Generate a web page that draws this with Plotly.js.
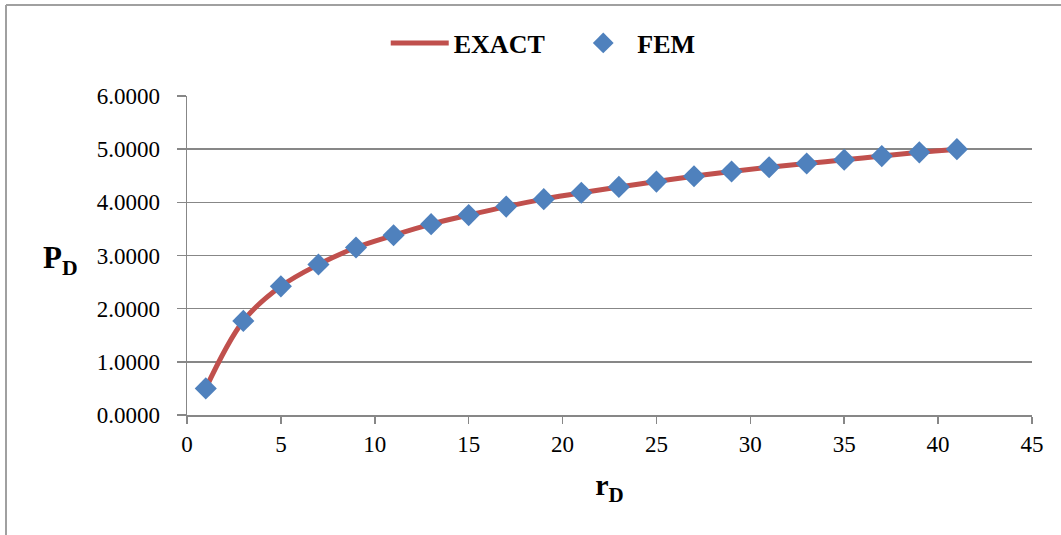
<!DOCTYPE html>
<html>
<head>
<meta charset="utf-8">
<script src="https://cdn.plot.ly/plotly-3.0.1.min.js"></script>
<style>
html,body{margin:0;padding:0;background:#fff;}
#chart{width:1061px;height:535px;}
</style>
</head>
<body>
<div id="chart"></div>
<script>
// Data
const rD = [1, 3, 5, 7, 9, 11, 13, 15, 17, 19, 21, 23, 25, 27, 29, 31, 33, 35, 37, 39, 41];
const exactPD = [0.50, 1.77, 2.42, 2.83, 3.15, 3.38, 3.59, 3.76, 3.92, 4.06, 4.18, 4.29, 4.39, 4.49, 4.58, 4.66, 4.73, 4.80, 4.87, 4.94, 5.00];
const femPD = [0.50, 1.77, 2.42, 2.83, 3.15, 3.38, 3.59, 3.76, 3.92, 4.06, 4.18, 4.29, 4.39, 4.49, 4.58, 4.66, 4.73, 4.80, 4.87, 4.94, 5.00];
const yTickVals = [0, 1, 2, 3, 4, 5, 6];
const yTickText = ["0.0000", "1.0000", "2.0000", "3.0000", "4.0000", "5.0000", "6.0000"];
const xTickVals = [0, 5, 10, 15, 20, 25, 30, 35, 40, 45];

const FONT = "'Liberation Serif', 'Times New Roman', serif";
const GRID = "#878787";

const traces = [
  {
    x: rD, y: exactPD, name: "EXACT\u00a0\u00a0\u00a0", type: "scatter", mode: "lines",
    line: {color: "#C0504D", width: 5, shape: "spline", smoothing: 1}
  },
  {
    x: rD, y: femPD, name: "FEM", type: "scatter", mode: "markers",
    marker: {symbol: "diamond", size: 17, color: "#4F81BD"}
  }
];

const layout = {
  width: 1061, height: 535,
  margin: {l: 187, r: 29, t: 96, b: 120, autoexpand: false},
  paper_bgcolor: "#fff", plot_bgcolor: "#fff",
  font: {family: FONT, size: 23, color: "#000"},
  showlegend: true,
  legend: {
    orientation: "h", xref: "container", yref: "container",
    x: 0.512, xanchor: "center", y: 1 - 43 / 535, yanchor: "middle",
    bgcolor: "rgba(0,0,0,0)",
    font: {family: FONT, size: 26, color: "#000", weight: "bold"},
    itemwidth: 58
  },
  xaxis: {
    range: [0, 45], tickvals: xTickVals, ticktext: xTickVals.map(String),
    showgrid: false, zeroline: false,
    showline: true, linecolor: GRID, linewidth: 1.5,
    ticks: "outside", ticklen: 7, tickcolor: GRID, tickwidth: 1.5,
    ticklabelstandoff: 1,
    tickfont: {family: FONT, size: 23, color: "#000"},
    title: {text: "<b>r<sub>D</sub></b>", font: {family: FONT, size: 30, color: "#000"}, standoff: 18}
  },
  yaxis: {
    range: [0, 6], tickvals: yTickVals, ticktext: yTickText,
    showgrid: true, gridcolor: GRID, gridwidth: 1.5,
    zeroline: false,
    showline: true, linecolor: GRID, linewidth: 1.5,
    ticks: "outside", ticklen: 9, tickcolor: GRID, tickwidth: 1.5,
    ticklabelstandoff: 12,
    tickfont: {family: FONT, size: 23, color: "#000"}
  },
  annotations: [
    {text: "<b>P<sub>D</sub></b>", xref: "paper", yref: "paper", x: -0.150, y: 0.486,
     xanchor: "center", yanchor: "middle", showarrow: false,
     font: {family: FONT, size: 31, color: "#000"}}
  ],
  shapes: [
    {type: "line", xref: "paper", yref: "paper", x0: -0.2142, x1: 1.2, y0: 1.2853, y1: 1.2853, line: {color: "#A0A0A0", width: 2}},
    {type: "line", xref: "paper", yref: "paper", x0: -0.2142, x1: -0.2142, y0: 1.2853, y1: -0.4, line: {color: "#A0A0A0", width: 2}}
  ]
};

Plotly.newPlot("chart", traces, layout, {displayModeBar: false, staticPlot: true});
</script>
</body>
</html>
